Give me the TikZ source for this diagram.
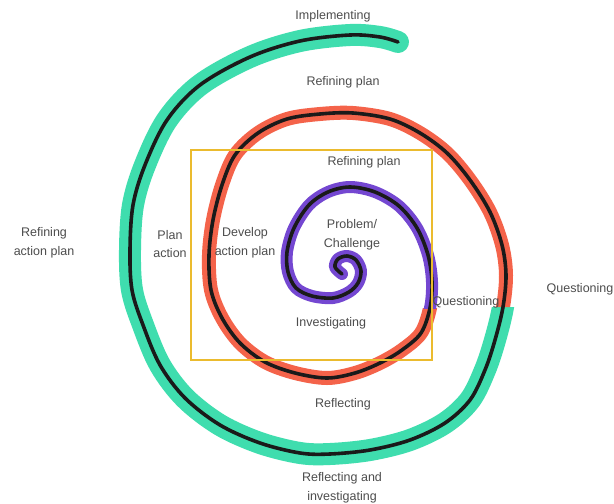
\documentclass[tikz,border=0pt]{standalone}
\usepackage{fontspec}
\setmainfont{Liberation Sans}
\definecolor{mintband}{HTML}{3FDDAE}
\definecolor{coralband}{HTML}{F4634A}
\definecolor{purpleband}{HTML}{7447D1}
\definecolor{inkblack}{HTML}{1A1A1A}
\definecolor{boxyellow}{HTML}{EBBB2E}
\definecolor{txtgray}{HTML}{4D4D4D}
\begin{document}
\begin{tikzpicture}[x=1pt,y=-1pt,
  lbl/.style={font=\fontsize{12.5}{18.5}\selectfont, text=txtgray, align=center, inner sep=0pt},
  bandline/.style={line width=#1, line cap=round, line join=round},
  inkline/.style={line width=3.6pt, draw=inkblack, line cap=round, line join=round}]
\useasboundingbox (0,0) rectangle (614,504);
\fill[white] (0,0) rectangle (614,504);

% green band (starts at the red/green change, on the right)
\begin{scope}
\clip (0,0) rectangle (470,504) (470,307) rectangle (614,504) (540,0) rectangle (614,307);
\draw[bandline=22pt, draw=mintband] plot[smooth, tension=0.55] coordinates {
 (502,245) (506,275) (503,307) (495,340) (485,370) (470,400) (445,423) (410,440) (370,450) (330,454) (300,453) (260,443) (220,425) (185,398) (160,365) (143,325) (132,290) (130,250) (133,205) (145,165) (167,120) (200,85) (250,57) (300,41) (350,35) (380,37) (398,42)};
\end{scope}

% red band (between the two colour changes)
\begin{scope}
\clip (0,0) rectangle (614,240) (0,240) rectangle (400,504) (460,240) rectangle (614,307) (400,308) rectangle (470,504) (540,307) rectangle (614,504);
\draw[bandline=14pt, draw=coralband] plot[smooth, tension=0.55] coordinates {
 (428,255) (432,282) (430,308) (421,333) (402,350) (380,363) (355,373) (327,378) (295,373) (265,362) (240,343) (222,318) (211,290) (209,255) (213,220) (222,185) (235,155) (258,133) (287,119) (320,114) (353,113) (390,119) (420,133) (447,153) (470,180) (490,212) (502,245) (506,275) (503,307) (495,340) (485,370)};
\end{scope}

% purple band (centre to the purple/red change)
\begin{scope}
\clip (0,0) rectangle (614,308);
\draw[bandline=12pt, draw=purpleband] plot[smooth, tension=0.55] coordinates {
 (342,274) (335,267) (338,259) (347,256) (356,260) (361,271) (358,283) (349,292) (333,298) (312,296) (296,288) (288,272) (287,252) (294,228) (309,205) (328,192) (350,187) (375,192) (399,206) (417,228) (428,255) (432,282) (430,308) (421,333) (402,350)};
\end{scope}

% black ink line
\draw[inkline] plot[smooth, tension=0.55] coordinates {
 (342,274) (335,267) (338,259) (347,256) (356,260) (361,271) (358,283) (349,292) (333,298) (312,296) (296,288) (288,272) (287,252) (294,228) (309,205) (328,192) (350,187) (375,192) (399,206) (417,228) (428,255) (432,282) (430,308)
 (421,333) (402,350) (380,363) (355,373) (327,378) (295,373) (265,362) (240,343) (222,318) (211,290) (209,255) (213,220) (222,185) (235,155) (258,133) (287,119) (320,114) (353,113) (390,119) (420,133) (447,153) (470,180) (490,212) (502,245) (506,275) (503,307)
 (495,340) (485,370) (470,400) (445,423) (410,440) (370,450) (330,454) (300,453) (260,443) (220,425) (185,398) (160,365) (143,325) (132,290) (130,250) (133,205) (145,165) (167,120) (200,85) (250,57) (300,41) (350,35) (380,37) (398,42)};

% yellow frame
\draw[boxyellow, line width=2pt] (191,150) rectangle (432,360);

% labels
\node[lbl] (impl) at (333,16) {Implementing};
\node[lbl] (refplanout) at (343,82) {Refining plan};
\node[lbl] (refplanin) at (364,162) {Refining plan};
\node[lbl] (refaction) at (44,243) {Refining\\action plan};
\node[lbl] (planaction) at (170,244) {Plan\\action};
\node[lbl] (develop) at (245,243) {Develop\\action plan};
\node[lbl] (problem) at (352,235) {Problem/\\Challenge};
\node[lbl] (invest) at (331,323) {Investigating};
\node[lbl] (questin) at (466,302) {Questioning};
\node[lbl] (questout) at (580,289) {Questioning};
\node[lbl] (reflect) at (343,404) {Reflecting};
\node[lbl] (reflinv) at (342,488) {Reflecting and\\investigating};
\end{tikzpicture}
\end{document}
